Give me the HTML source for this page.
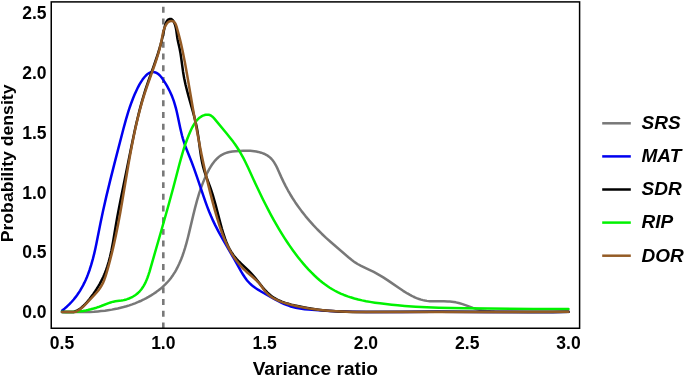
<!DOCTYPE html>
<html><head><meta charset="utf-8"><style>
html,body{margin:0;padding:0;background:#fff;}
svg{display:block;}
text{font-family:"Liberation Sans",Arial,sans-serif;font-weight:bold;fill:#000;}
</style></head><body>
<svg width="685" height="377" viewBox="0 0 685 377">
<rect width="685" height="377" fill="#fff"/>
<line x1="163.3" x2="163.3" y1="6.8" y2="328" stroke="#797979" stroke-width="2.6" stroke-dasharray="5.95 5.74"/>
<g fill="none" stroke-width="2.5" stroke-linejoin="round" stroke-linecap="round">
<path d="M62.02,311.73 L66.01,311.90 L90.00,311.90 L93.99,311.70 L97.98,311.40 L100.96,311.11 L104.94,310.65 L107.91,310.24 L111.86,309.61 L114.81,309.06 L117.74,308.45 L120.66,307.77 L123.57,307.03 L126.46,306.22 L129.32,305.33 L132.16,304.37 L134.98,303.33 L137.76,302.21 L140.51,301.01 L143.22,299.74 L145.90,298.38 L148.53,296.94 L151.11,295.41 L153.64,293.81 L156.12,292.11 L158.53,290.33 L160.87,288.45 L162.39,287.15 L165.30,284.41 L166.70,282.98 L168.05,281.50 L169.34,279.98 L170.59,278.42 L171.79,276.81 L172.93,275.17 L175.07,271.80 L176.07,270.07 L177.48,267.42 L179.22,263.82 L181.18,259.22 L182.59,255.48 L183.89,251.69 L185.08,247.88 L186.46,243.07 L187.74,238.24 L188.95,233.39 L193.33,214.90 L195.00,208.11 L197.07,200.38 L199.07,193.68 L200.32,189.88 L201.65,186.11 L203.08,182.37 L204.61,178.68 L206.25,175.03 L207.55,172.33 L208.94,169.67 L210.43,167.07 L212.05,164.54 L213.21,162.91 L215.09,160.58 L216.45,159.11 L217.90,157.73 L218.66,157.08 L220.24,155.87 L221.92,154.78 L223.70,153.86 L225.54,153.09 L227.45,152.50 L229.40,152.04 L232.35,151.54 L235.34,151.22 L239.33,150.94 L243.32,150.77 L246.32,150.73 L250.32,150.86 L252.31,151.01 L254.30,151.23 L256.27,151.52 L258.24,151.91 L261.13,152.69 L263.02,153.34 L263.95,153.72 L265.75,154.58 L266.63,155.06 L268.31,156.14 L269.11,156.73 L269.89,157.37 L271.33,158.76 L272.63,160.27 L273.81,161.88 L274.88,163.57 L275.87,165.31 L277.64,168.90 L281.28,177.13 L283.40,181.65 L285.65,186.12 L288.03,190.51 L290.02,193.98 L292.62,198.25 L295.35,202.44 L298.19,206.55 L301.75,211.38 L305.46,216.09 L309.33,220.68 L313.33,225.15 L317.46,229.50 L321.71,233.73 L326.07,237.85 L331.29,242.52 L348.71,257.53 L351.81,260.05 L353.41,261.25 L355.05,262.40 L357.58,264.00 L361.09,265.93 L364.67,267.70 L371.01,270.67 L373.71,271.98 L376.37,273.36 L379.85,275.32 L383.27,277.40 L387.47,280.11 L390.78,282.36 L399.00,288.05 L403.15,290.83 L407.40,293.46 L410.01,294.94 L411.78,295.87 L413.58,296.75 L415.40,297.57 L417.25,298.33 L419.13,299.02 L421.04,299.62 L422.97,300.14 L424.92,300.56 L426.89,300.88 L429.88,301.19 L432.87,301.33 L435.87,301.37 L443.87,301.29 L447.87,301.38 L449.86,301.50 L451.85,301.70 L453.83,301.98 L455.80,302.35 L458.72,303.04 L462.56,304.16 L465.40,305.11 L472.92,307.82 L475.77,308.76 L477.70,309.31 L479.64,309.79 L481.59,310.19 L483.57,310.53 L486.54,310.91 L490.53,311.24 L494.52,311.44 L502.52,311.64 L511.51,311.79 L527.51,311.89 L568.50,311.90" stroke="#787878"/>
<path d="M62.17,310.52 L64.51,308.65 L66.78,306.69 L68.96,304.63 L70.36,303.21 L71.73,301.74 L73.70,299.48 L75.57,297.14 L77.35,294.73 L78.49,293.08 L80.11,290.56 L81.63,287.98 L83.07,285.34 L84.42,282.66 L85.68,279.94 L86.86,277.19 L87.97,274.40 L89.67,269.70 L91.19,264.93 L92.82,259.16 L94.28,253.34 L95.39,248.47 L96.43,243.58 L100.50,222.98 L102.97,211.24 L106.28,196.61 L110.27,180.09 L114.68,162.65 L123.44,128.77 L126.08,119.13 L128.39,111.47 L129.95,106.72 L131.29,102.95 L133.07,98.28 L134.60,94.58 L136.23,90.93 L137.97,87.33 L139.37,84.68 L140.89,82.10 L142.55,79.60 L144.37,77.21 L145.70,75.72 L147.16,74.36 L147.95,73.75 L148.79,73.21 L149.68,72.75 L150.62,72.40 L151.59,72.17 L152.58,72.07 L153.58,72.09 L154.57,72.24 L155.53,72.51 L156.45,72.90 L157.33,73.37 L158.16,73.94 L158.93,74.57 L159.65,75.26 L160.98,76.76 L162.19,78.35 L163.87,80.83 L165.47,83.37 L166.99,85.96 L168.43,88.59 L169.78,91.26 L171.04,93.99 L171.83,95.82 L172.92,98.62 L173.91,101.45 L174.81,104.31 L175.88,108.16 L176.61,111.07 L177.50,114.97 L180.18,127.69 L181.29,132.56 L182.01,135.47 L182.80,138.37 L184.29,143.14 L185.28,145.97 L186.34,148.78 L191.53,161.78 L193.99,168.33 L196.96,176.82 L203.66,196.72 L205.65,202.38 L207.38,207.07 L209.19,211.73 L211.11,216.34 L213.15,220.91 L215.31,225.41 L218.52,231.63 L222.87,239.51 L234.40,259.41 L241.23,271.62 L243.29,275.05 L244.95,277.55 L246.74,279.96 L248.01,281.50 L250.07,283.68 L251.54,285.03 L253.09,286.30 L255.51,288.06 L258.03,289.69 L261.47,291.73 L273.63,298.66 L278.92,301.50 L281.61,302.83 L284.34,304.07 L287.12,305.19 L289.95,306.18 L292.83,307.02 L295.74,307.72 L298.69,308.30 L301.65,308.77 L304.62,309.16 L308.60,309.57 L318.57,310.32 L329.55,310.94 L340.54,311.38 L352.53,311.70 L366.53,311.89 L401.52,311.90 L437.51,311.84 L486.50,311.90 L553.49,311.90 L568.49,311.84" stroke="#0000f0"/>
<path d="M61.99,311.90 L73.80,311.88 L74.75,311.55 L76.58,310.75 L77.46,310.29 L79.17,309.25 L79.99,308.68 L81.58,307.47 L83.81,305.47 L85.22,304.05 L86.57,302.58 L87.87,301.06 L89.76,298.73 L91.58,296.35 L93.35,293.93 L95.05,291.46 L96.69,288.95 L98.26,286.40 L99.76,283.81 L101.18,281.17 L102.09,279.38 L103.37,276.68 L104.18,274.85 L104.95,273.00 L106.03,270.21 L107.34,266.43 L108.77,261.65 L110.03,256.81 L111.33,250.96 L112.11,247.04 L113.01,242.12 L115.65,226.35 L117.21,217.50 L119.05,207.68 L121.17,196.89 L131.32,146.95 L133.56,136.19 L135.03,129.35 L136.57,122.53 L137.95,116.69 L139.40,110.88 L140.92,105.08 L142.26,100.26 L143.95,94.51 L145.45,89.74 L148.32,81.22 L153.68,66.16 L155.65,60.50 L157.54,54.81 L159.32,49.08 L160.70,44.28 L161.96,39.45 L163.09,34.58 L164.71,26.75 L165.22,24.82 L165.52,23.87 L165.87,22.93 L166.29,22.02 L166.79,21.16 L167.40,20.37 L168.14,19.70 L169.01,19.22 L169.97,18.96 L170.97,19.01 L171.88,19.40 L172.62,20.06 L173.23,20.85 L173.74,21.71 L174.57,23.53 L175.21,25.42 L175.72,27.35 L176.29,30.30 L177.23,37.23 L177.56,39.20 L178.17,42.13 L179.50,47.98 L180.42,52.89 L181.17,57.83 L183.06,71.69 L183.70,75.64 L184.24,78.58 L185.51,84.44 L186.95,90.26 L188.51,96.05 L192.06,108.55 L193.66,114.33 L195.15,120.13 L196.27,125.00 L197.24,129.90 L198.05,134.83 L198.75,139.78 L200.17,150.68 L201.05,156.61 L201.94,161.53 L203.04,166.40 L203.81,169.30 L205.01,173.11 L206.35,176.88 L210.18,187.18 L211.47,190.96 L212.98,195.72 L214.39,200.51 L215.73,205.33 L220.29,222.73 L221.86,228.51 L223.56,234.26 L225.17,238.99 L226.24,241.79 L227.41,244.55 L228.69,247.26 L229.61,249.04 L231.11,251.63 L232.18,253.32 L233.33,254.96 L234.54,256.54 L236.48,258.83 L239.22,261.74 L241.36,263.84 L248.59,270.74 L250.69,272.88 L252.05,274.34 L253.37,275.84 L255.30,278.13 L262.80,287.49 L264.76,289.75 L266.12,291.22 L267.52,292.65 L268.97,294.02 L270.48,295.32 L272.07,296.55 L273.71,297.68 L276.30,299.20 L278.98,300.52 L281.75,301.68 L284.57,302.69 L287.43,303.58 L291.29,304.62 L295.18,305.53 L301.05,306.76 L305.96,307.69 L311.87,308.68 L316.82,309.40 L322.77,310.14 L327.74,310.65 L332.72,311.06 L338.70,311.43 L345.69,311.73 L352.68,311.90 L436.62,311.87 L552.53,311.90 L568.52,311.86" stroke="#000000"/>
<path d="M61.99,311.83 L62.99,311.90 L73.97,311.90 L74.97,311.85 L76.96,311.69 L79.94,311.36 L82.90,310.93 L85.86,310.41 L87.81,310.01 L90.73,309.32 L93.62,308.55 L96.49,307.68 L98.39,307.05 L101.20,306.02 L108.64,303.10 L110.53,302.45 L112.45,301.90 L113.42,301.66 L115.38,301.28 L121.32,300.48 L123.29,300.15 L124.27,299.95 L126.20,299.45 L127.16,299.16 L129.04,298.48 L130.87,297.68 L132.65,296.77 L133.51,296.27 L135.19,295.19 L136.80,294.00 L138.30,292.69 L139.71,291.27 L140.38,290.53 L141.62,288.97 L142.77,287.33 L143.82,285.63 L144.78,283.88 L145.66,282.09 L146.47,280.26 L147.57,277.47 L148.56,274.65 L149.47,271.79 L161.35,230.51 L168.14,206.48 L173.40,187.21 L179.47,164.01 L181.58,156.31 L182.99,151.51 L184.18,147.70 L185.78,142.97 L187.15,139.22 L188.61,135.50 L189.77,132.73 L190.98,129.99 L192.29,127.30 L193.24,125.54 L194.26,123.82 L195.37,122.16 L196.60,120.59 L197.96,119.12 L199.45,117.80 L201.08,116.65 L201.95,116.15 L202.85,115.71 L203.77,115.34 L204.72,115.03 L205.70,114.81 L206.69,114.68 L207.68,114.66 L208.68,114.76 L209.64,115.01 L210.56,115.41 L211.42,115.92 L212.22,116.52 L212.97,117.18 L214.35,118.62 L226.46,133.23 L230.84,138.69 L233.26,141.86 L235.02,144.29 L236.72,146.76 L238.35,149.27 L239.91,151.83 L241.89,155.30 L243.31,157.94 L245.13,161.50 L248.16,167.80 L255.24,183.23 L260.36,194.07 L263.00,199.45 L265.69,204.81 L268.45,210.13 L270.79,214.54 L273.67,219.80 L276.13,224.14 L279.16,229.32 L281.75,233.59 L284.40,237.82 L287.12,242.01 L289.92,246.14 L292.80,250.22 L295.77,254.24 L298.21,257.41 L300.70,260.53 L303.26,263.59 L305.89,266.61 L308.58,269.56 L311.35,272.44 L314.19,275.25 L317.12,277.96 L319.38,279.94 L322.47,282.47 L324.85,284.29 L327.28,286.04 L329.77,287.70 L332.32,289.28 L334.93,290.76 L337.59,292.14 L341.21,293.82 L343.98,294.97 L347.72,296.37 L350.57,297.32 L354.39,298.46 L358.26,299.47 L362.15,300.37 L366.07,301.17 L370.00,301.88 L374.93,302.67 L379.88,303.36 L385.83,304.09 L391.78,304.75 L397.75,305.33 L404.72,305.92 L415.68,306.67 L426.65,307.23 L438.63,307.67 L451.61,307.98 L465.60,308.20 L533.52,309.00 L552.50,309.12 L568.48,309.09" stroke="#00f200"/>
<path d="M61.99,311.90 L74.73,311.90 L75.66,311.74 L76.57,311.33 L78.32,310.38 L79.17,309.84 L80.79,308.68 L83.10,306.76 L84.55,305.40 L85.97,303.98 L94.17,295.24 L96.17,293.00 L97.46,291.48 L98.70,289.91 L99.88,288.29 L101.49,285.77 L102.89,283.12 L103.70,281.29 L104.43,279.43 L105.42,276.60 L106.88,271.82 L108.52,266.06 L110.33,259.30 L111.79,253.48 L113.18,247.65 L114.50,241.80 L115.96,234.96 L118.12,224.18 L120.48,211.41 L122.70,198.61 L128.33,165.10 L130.07,155.26 L131.71,146.42 L133.66,136.62 L135.54,127.82 L137.57,119.06 L139.52,111.31 L140.81,106.48 L142.17,101.68 L143.60,96.89 L145.11,92.12 L147.66,84.55 L154.70,64.78 L156.59,59.09 L158.07,54.32 L159.42,49.51 L160.40,45.63 L161.47,40.75 L162.78,33.88 L163.49,30.97 L164.09,29.06 L164.81,27.20 L165.69,25.40 L166.19,24.54 L166.75,23.71 L167.37,22.93 L168.08,22.23 L168.89,21.65 L169.80,21.24 L170.78,21.02 L171.77,21.00 L172.75,21.20 L173.66,21.61 L174.43,22.24 L175.05,23.02 L175.54,23.90 L175.94,24.81 L176.57,26.71 L178.20,32.48 L179.46,37.31 L180.65,42.16 L181.76,47.04 L182.82,51.92 L184.95,62.70 L187.07,74.51 L193.00,108.97 L196.17,126.68 L198.01,136.50 L199.91,146.31 L201.69,155.13 L203.54,163.93 L205.68,173.69 L207.94,183.42 L210.08,192.16 L212.32,200.87 L214.68,209.55 L217.17,218.19 L219.25,224.87 L221.17,230.55 L222.92,235.23 L224.41,238.94 L226.43,243.51 L228.17,247.11 L230.04,250.64 L232.05,254.09 L234.20,257.46 L236.51,260.72 L238.35,263.09 L240.27,265.39 L242.28,267.61 L243.68,269.05 L245.11,270.44 L247.32,272.46 L252.65,276.99 L254.90,278.98 L256.35,280.35 L257.75,281.77 L259.09,283.26 L260.35,284.81 L263.87,289.66 L265.74,292.00 L267.12,293.45 L267.84,294.14 L268.59,294.80 L270.15,296.05 L272.63,297.73 L275.25,299.20 L277.95,300.48 L280.73,301.61 L283.56,302.61 L287.38,303.78 L291.24,304.84 L296.09,306.03 L299.99,306.87 L304.90,307.81 L309.83,308.63 L314.78,309.33 L319.74,309.92 L325.71,310.50 L330.69,310.89 L336.67,311.26 L346.66,311.68 L356.65,311.90 L568.50,311.87" stroke="#945b25"/>
</g>
<rect x="51.25" y="1.9" width="528.35" height="326.35" fill="none" stroke="#000" stroke-width="1.5"/>
<g font-size="17.5">
<text x="46.5" y="318.20" text-anchor="end">0.0</text>
<text x="46.5" y="258.35" text-anchor="end">0.5</text>
<text x="46.5" y="198.50" text-anchor="end">1.0</text>
<text x="46.5" y="138.65" text-anchor="end">1.5</text>
<text x="46.5" y="78.80" text-anchor="end">2.0</text>
<text x="46.5" y="18.95" text-anchor="end">2.5</text>
<text x="62.00" y="349" text-anchor="middle">0.5</text>
<text x="163.30" y="349" text-anchor="middle">1.0</text>
<text x="264.60" y="349" text-anchor="middle">1.5</text>
<text x="365.90" y="349" text-anchor="middle">2.0</text>
<text x="467.20" y="349" text-anchor="middle">2.5</text>
<text x="568.50" y="349" text-anchor="middle">3.0</text>
</g>
<text x="315.3" y="374.9" font-size="19.1" text-anchor="middle">Variance ratio</text>
<text transform="translate(13.0,163.4) rotate(-90)" font-size="16.6" text-anchor="middle" textLength="157.8" lengthAdjust="spacingAndGlyphs">Probability density</text>
<g font-size="19">
<line x1="602.2" x2="630.8" y1="123.30" y2="123.30" stroke="#787878" stroke-width="2.5"/>
<text x="641.5" y="129.10" font-style="italic">SRS</text>
<line x1="602.2" x2="630.8" y1="156.40" y2="156.40" stroke="#0000f0" stroke-width="2.5"/>
<text x="641.5" y="162.20" font-style="italic">MAT</text>
<line x1="602.2" x2="630.8" y1="189.50" y2="189.50" stroke="#000000" stroke-width="2.5"/>
<text x="641.5" y="195.30" font-style="italic">SDR</text>
<line x1="602.2" x2="630.8" y1="222.60" y2="222.60" stroke="#00f200" stroke-width="2.5"/>
<text x="641.5" y="228.40" font-style="italic">RIP</text>
<line x1="602.2" x2="630.8" y1="255.70" y2="255.70" stroke="#945b25" stroke-width="2.5"/>
<text x="641.5" y="261.50" font-style="italic">DOR</text>
</g>
</svg>
</body></html>
